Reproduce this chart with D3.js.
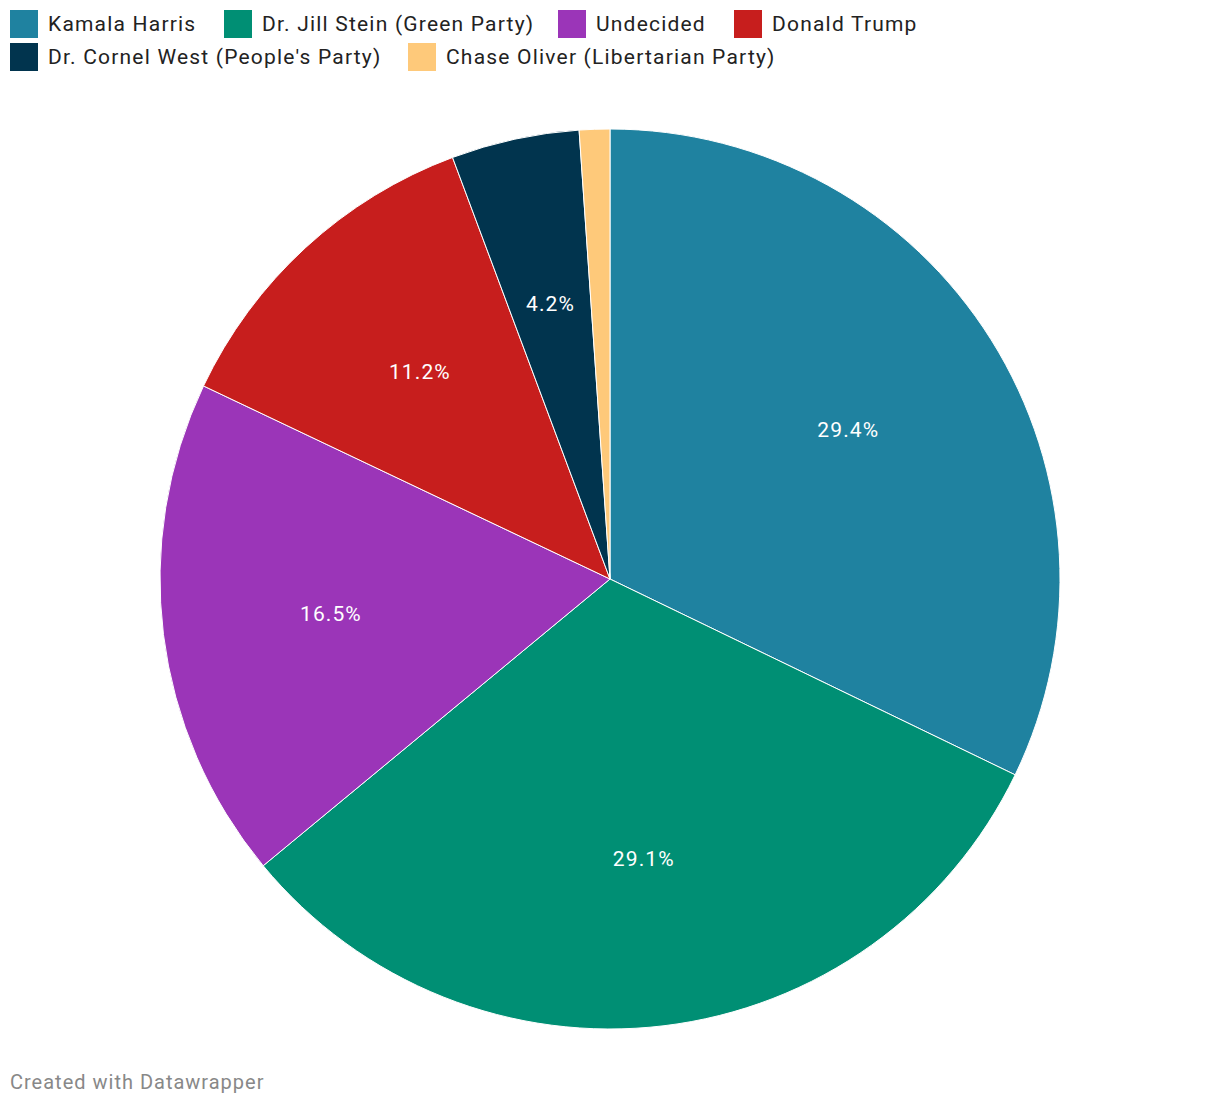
<!DOCTYPE html>
<html lang="en">
<head>
    <meta charset="UTF-8">
    <title>Poll pie</title>
    <script src="https://d3js.org/d3.v7.min.js"></script>
</head>
<style>
    body {
        margin: 0;
        padding: 0;
        background: #fff;
        font-family: Roboto, "Noto Sans", sans-serif;
    }
    svg {
        display: block;
    }
</style>
<body>
<div class="chart"></div>
<script>
  // data
  var candidates = ['Kamala Harris', 'Dr. Jill Stein (Green Party)', 'Undecided', 'Donald Trump',
    'Dr. Cornel West (People\'s Party)', 'Chase Oliver (Libertarian Party)'];
  var shares = [29.4, 29.1, 16.5, 11.2, 4.2, 1.0];
  var colors = ['#1f82a0', '#008f74', '#9b35b8', '#c71e1d', '#01344e', '#fec97a'];
  var showLabel = [true, true, true, true, true, false];

  var width = 1220, height = 1106;
  var cx = 610, cy = 579, radius = 450;

  var svg = d3.select('.chart').append('svg')
    .attr('width', width)
    .attr('height', height);

  /** legend, two rows like the original */
  var legendRows = [[0, 1, 2, 3], [4, 5]];
  var legendX = [[10, 224, 558, 734], [10, 408]];
  var legendY = [10, 43];

  legendRows.forEach(function (row, r) {
    var items = svg.append('g').selectAll('g')
      .data(row)
      .enter().append('g')
      .attr('transform', function (d, i) {
        return 'translate(' + legendX[r][i] + ',' + legendY[r] + ')';
      });
    items.append('rect')
      .attr('width', 28)
      .attr('height', 28)
      .attr('fill', function (d) { return colors[d]; });
    items.append('text')
      .attr('x', 38)
      .attr('y', 14)
      .attr('dy', '0.35em')
      .style('font-size', '21px')
      .style('letter-spacing', '1.2px')
      .style('fill', '#222')
      .text(function (d) { return candidates[d]; });
  });

  /** pie */
  var pie = d3.pie().sort(null).value(function (d) { return d; });
  var arcs = pie(shares);
  var arc = d3.arc().innerRadius(0).outerRadius(radius);
  var labelArc = d3.arc().innerRadius(radius * 0.625).outerRadius(radius * 0.625);

  var pieGroup = svg.append('g')
    .attr('transform', 'translate(' + cx + ',' + cy + ')');

  pieGroup.selectAll('path')
    .data(arcs)
    .enter().append('path')
    .attr('d', arc)
    .attr('fill', function (d, i) { return colors[i]; })
    .attr('stroke', '#fff')
    .attr('stroke-width', 1);

  pieGroup.selectAll('text')
    .data(arcs.filter(function (d, i) { return showLabel[i]; }))
    .enter().append('text')
    .attr('transform', function (d) { return 'translate(' + labelArc.centroid(d) + ')'; })
    .attr('text-anchor', 'middle')
    .attr('dy', '0.35em')
    .style('font-size', '21px')
    .style('letter-spacing', '1.1px')
    .style('fill', '#fff')
    .text(function (d) { return d.data.toFixed(1) + '%'; });

  /** footer */
  svg.append('text')
    .attr('x', 10)
    .attr('y', 1082)
    .attr('dy', '0.35em')
    .style('font-size', '20px')
    .style('letter-spacing', '1px')
    .style('fill', '#888')
    .text('Created with Datawrapper');
</script>
</body>
</html>
